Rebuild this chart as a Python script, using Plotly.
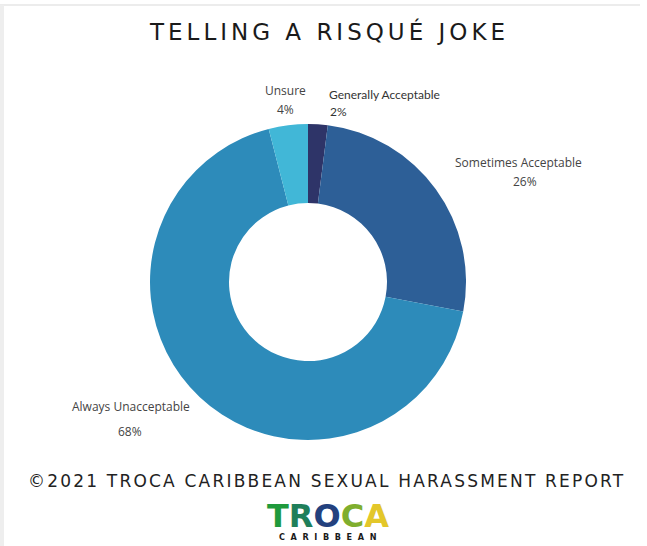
import plotly.graph_objects as go

# Survey responses for "Telling a risqué joke" (percent of respondents)
categories = ["Generally Acceptable", "Sometimes Acceptable", "Always Unacceptable", "Unsure"]
values = [2, 26, 68, 4]
colors = ["#2e3468", "#2d5f97", "#2d8bba", "#41b7d7"]

W, H = 647, 546

def px(x):
    return x / W

def py(y):
    return 1 - y / H

# donut geometry in pixels
cx, cy, r = 308, 282, 158

fig = go.Figure(
    go.Pie(
        labels=categories,
        values=values,
        hole=0.5,
        sort=False,
        direction="clockwise",
        rotation=0,
        marker=dict(colors=colors, line=dict(width=0)),
        textinfo="none",
        hoverinfo="label+percent",
        domain=dict(x=[px(cx - r), px(cx + r)], y=[py(cy + r), py(cy - r)]),
        showlegend=False,
    )
)

# label placement in pixels: name x, value x, y of the split between the two lines,
# extra gap between lines, horizontal anchor
label_pos = {
    "Generally Acceptable": (328, 329, 103, 0, "left"),
    "Sometimes Acceptable": (518, 525, 172, 0, "center"),
    "Always Unacceptable": (131, 130, 419, 6, "center"),
    "Unsure": (285, 285, 99.5, 0, "center"),
}
label_font = {
    "Generally Acceptable": dict(family="Lato", size=12, color="#333333"),
}

annotations = []
for cat, val in zip(categories, values):
    nx, vx, ys, gap, anchor = label_pos[cat]
    f = label_font.get(cat, dict(family="Open Sans", size=12, color="#444444"))
    annotations.append(dict(
        x=px(nx), y=py(ys - gap / 2), xref="paper", yref="paper",
        text=cat, showarrow=False, xanchor=anchor, yanchor="bottom",
        borderpad=0, font=f,
    ))
    annotations.append(dict(
        x=px(vx), y=py(ys + gap / 2), xref="paper", yref="paper",
        text=f"{val}%", showarrow=False, xanchor=anchor, yanchor="top",
        borderpad=0, font=f,
    ))

# title
annotations.append(dict(
    x=px(329), y=py(31), xref="paper", yref="paper",
    text="<span style='letter-spacing:4px'>TELLING A RISQUÉ JOKE</span>", showarrow=False,
    xanchor="center", yanchor="middle",
    font=dict(family="DejaVu Sans", size=23, color="#1a1a1a"),
))

# footer
annotations.append(dict(
    x=px(326), y=py(481), xref="paper", yref="paper",
    text="<span style='letter-spacing:2.2px'>©2021 TROCA CARIBBEAN SEXUAL HARASSMENT REPORT</span>",
    showarrow=False,
    xanchor="center", yanchor="middle",
    font=dict(family="DejaVu Sans", size=17, color="#222222"),
))

# logo wordmark
logo_letters = ["T", "R", "O", "C", "A"]
logo_colors = ["#1f9a3c", "#1f7f5a", "#23417e", "#7fae2e", "#e3c72a"]
logo_text = "".join(
    f"<span style='color:{c}'>{ch}</span>" for ch, c in zip(logo_letters, logo_colors)
)
annotations.append(dict(
    x=px(328), y=py(516), xref="paper", yref="paper",
    text=f"<b>{logo_text}</b>", showarrow=False,
    xanchor="center", yanchor="middle",
    font=dict(family="DejaVu Sans", size=32),
))
annotations.append(dict(
    x=px(328), y=py(537), xref="paper", yref="paper",
    text="<b>C  A  R  I  B  B  E  A  N</b>", showarrow=False,
    xanchor="center", yanchor="middle",
    font=dict(family="DejaVu Sans Condensed", size=9, color="#1a1a1a"),
))

fig.update_layout(
    width=W, height=H,
    margin=dict(l=0, r=0, t=0, b=0),
    paper_bgcolor="white",
    plot_bgcolor="white",
    annotations=annotations,
    shapes=[
        dict(type="line", xref="paper", yref="paper", x0=0, x1=px(640), y0=py(5), y1=py(5),
             line=dict(color="#ececec", width=2)),
        dict(type="line", xref="paper", yref="paper", x0=px(2), x1=px(2), y0=0, y1=py(5),
             line=dict(color="#eeeeee", width=4)),
    ],
)

fig.write_html("out.html")
